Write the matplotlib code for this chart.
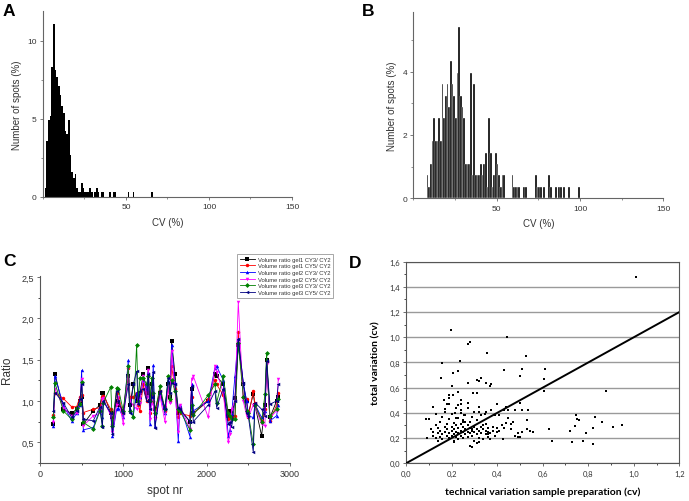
import numpy as np
import matplotlib
matplotlib.use('Agg')
import matplotlib.pyplot as plt
from matplotlib.ticker import MultipleLocator, FuncFormatter

plt.rcParams['font.family'] = ['Liberation Sans', 'DejaVu Sans']

# ---- Panel A: CV histogram (left bin edge, % of spots) ----
a_cv = [1, 2, 3, 4, 5, 6, 7, 8, 9, 10, 11, 12, 13, 14, 15, 16, 17, 18, 19, 20,
        21, 22, 23, 24, 25, 26, 27, 28, 29, 31, 32, 33, 35, 36, 40, 42, 43, 51, 54, 65]
a_pct = [0.6, 3.6, 4.9, 5.2, 8.3, 11.1, 8.1, 7.7, 7.1, 6.5, 5.8, 5.4, 4.2, 4.0, 4.9,
         2.7, 1.6, 1.2, 1.5, 0.6, 0.3, 0.3, 0.9, 0.6, 0.3, 0.3, 0.3, 0.6, 0.3, 0.3,
         0.6, 0.3, 0.3, 0.3, 0.3, 0.3, 0.3, 0.3, 0.3, 0.3]

# ---- Panel B: CV histogram ----
b_cv = [8, 9, 10, 11, 12, 13, 14, 15, 16, 17, 18, 19, 20, 21, 22, 23, 24, 25, 26, 27,
        28, 29, 30, 31, 32, 33, 34, 35, 36, 37, 38, 39, 40, 41, 42, 43, 44, 45, 46, 47,
        48, 49, 50, 51, 52, 53, 54, 59, 60, 61, 62, 63, 66, 67, 73, 74, 75, 76, 78, 81,
        82, 85, 87, 88, 90, 93, 99]
b_pct = [0.72, 0.36, 1.08, 1.8, 2.52, 1.8, 1.8, 2.52, 1.8, 3.6, 2.52, 3.24, 3.6, 2.88,
         4.32, 3.6, 3.24, 2.52, 3.96, 5.4, 3.24, 2.88, 2.52, 1.08, 1.08, 1.08, 3.96,
         0.72, 3.6, 0.72, 0.72, 0.72, 1.08, 0.72, 1.08, 1.44, 0.36, 2.52, 1.44, 0.36,
         0.72, 1.44, 1.08, 0.72, 0.36, 0.72, 0.72, 0.72, 0.36, 0.36, 0.36, 0.36, 0.36,
         0.36, 0.72, 0.36, 0.36, 0.36, 0.36, 0.72, 0.36, 0.36, 0.36, 0.36, 0.36, 0.36,
         0.36]

# ---- Panel C: volume ratios per spot ----
spots = [160, 180, 280, 380, 440, 480, 500, 520, 640, 720, 750, 760, 850, 870, 920,
         940, 1000, 1060, 1080, 1120, 1160, 1180, 1200, 1240, 1280, 1300, 1320, 1340,
         1360, 1380, 1440, 1500, 1540, 1560, 1580, 1620, 1660, 1680, 1800, 1820, 1840,
         2020, 2100, 2120, 2200, 2260, 2280, 2300, 2340, 2380, 2440, 2480, 2500, 2560,
         2580, 2660, 2700, 2720, 2760, 2840, 2860]
gel1_cy3 = [0.72, 1.33, 0.90, 0.85, 0.90, 1.00, 1.05, 0.72, 0.88, 0.95, 1.10, 1.10, 0.85,
            0.80, 1.00, 0.95, 0.88, 1.30, 0.95, 1.20, 1.00, 1.05, 1.10, 1.32, 1.10, 1.40,
            1.00, 1.20, 1.05, 0.90, 1.10, 0.92, 1.20, 1.05, 1.72, 1.33, 0.85, 0.90, 0.75,
            1.15, 0.85, 1.00, 1.33, 1.30, 1.20, 0.82, 0.88, 0.80, 1.03, 1.68, 1.20, 1.00,
            0.85, 1.08, 0.95, 0.58, 0.95, 1.50, 0.80, 1.00, 1.05]
gel1_cy5 = [0.83, 1.10, 1.03, 0.93, 0.93, 1.05, 1.07, 0.86, 0.90, 0.92, 1.05, 1.06, 0.90,
            0.72, 1.10, 1.05, 0.85, 1.40, 1.05, 1.05, 1.10, 0.95, 0.88, 1.20, 1.00, 1.30,
            0.85, 1.10, 1.00, 0.80, 1.12, 0.88, 1.15, 1.00, 1.42, 1.15, 0.80, 0.85, 0.82,
            1.05, 0.85, 1.02, 1.25, 1.20, 1.07, 0.78, 0.80, 0.82, 0.82, 1.83, 1.05, 1.02,
            0.80, 1.12, 0.97, 0.76, 0.90, 1.48, 0.76, 0.95, 1.10]
gel2_cy3 = [0.70, 1.30, 0.95, 0.76, 0.85, 0.95, 1.37, 0.65, 0.68, 0.90, 0.80, 1.00, 0.84,
            0.58, 0.90, 0.92, 0.80, 1.49, 0.90, 0.82, 1.10, 1.00, 1.05, 1.25, 1.15, 1.35,
            0.72, 1.05, 1.43, 0.70, 1.08, 0.85, 1.25, 1.00, 1.68, 1.22, 0.51, 0.95, 0.57,
            1.20, 0.88, 1.00, 1.40, 1.42, 1.25, 0.58, 0.65, 0.84, 1.30, 1.75, 1.22, 1.00,
            0.82, 0.80, 0.96, 0.80, 0.88, 1.50, 0.76, 0.82, 0.95]
gel2_cy5 = [0.75, 1.15, 0.92, 0.82, 0.85, 1.00, 1.27, 0.70, 0.82, 0.85, 1.02, 1.03, 0.82,
            0.62, 0.95, 1.05, 0.72, 1.40, 1.00, 0.95, 0.90, 1.08, 0.98, 1.30, 1.05, 1.38,
            0.78, 1.00, 0.95, 0.78, 1.06, 0.75, 1.18, 0.98, 1.60, 1.12, 0.63, 0.95, 0.66,
            1.26, 1.30, 0.80, 1.42, 1.35, 1.10, 0.50, 0.60, 0.90, 1.00, 2.20, 1.00, 0.82,
            0.80, 0.95, 0.93, 0.72, 0.70, 1.45, 0.80, 0.88, 1.27]
gel3_cy3 = [0.80, 1.22, 0.88, 0.78, 0.92, 0.96, 1.23, 0.74, 0.66, 0.88, 0.70, 0.98, 1.17,
            0.70, 1.16, 1.15, 0.88, 1.42, 0.88, 0.80, 1.68, 1.00, 1.28, 1.28, 1.20, 1.30,
            1.00, 1.28, 1.10, 0.85, 1.18, 0.90, 1.30, 1.02, 1.25, 1.12, 0.90, 0.88, 0.65,
            0.95, 0.83, 1.07, 1.20, 0.98, 1.30, 0.85, 0.82, 0.78, 0.78, 1.70, 1.05, 0.88,
            0.85, 0.48, 0.95, 0.75, 1.08, 1.58, 0.82, 0.90, 1.02]
gel3_cy5 = [0.88, 1.10, 0.98, 0.80, 0.88, 1.02, 1.20, 0.78, 0.76, 0.93, 0.68, 1.00, 0.85,
            0.60, 1.12, 1.00, 0.85, 1.20, 0.85, 1.20, 1.36, 0.96, 1.12, 1.15, 1.00, 1.32,
            0.90, 1.05, 1.35, 0.67, 1.12, 0.90, 1.28, 1.10, 1.22, 1.20, 0.92, 0.90, 0.75,
            1.18, 0.75, 0.95, 1.12, 0.92, 1.15, 0.72, 0.75, 0.68, 1.00, 1.75, 1.22, 0.85,
            0.82, 0.38, 0.98, 0.90, 0.82, 1.48, 0.96, 1.00, 1.20]
series_c = [
    ('Volume ratio gel1 CY3/ CY2', gel1_cy3, 'black', 's'),
    ('Volume ratio gel1 CY5/ CY2', gel1_cy5, 'red', 'o'),
    ('Volume ratio gel2 CY3/ CY2', gel2_cy3, 'blue', '^'),
    ('Volume ratio gel2 CY5/ CY2', gel2_cy5, 'magenta', 'v'),
    ('Volume ratio gel3 CY3/ CY2', gel3_cy3, '#008000', 'D'),
    ('Volume ratio gel3 CY5/ CY2', gel3_cy5, '#000080', '<'),
]

# ---- Panel D: technical vs total variation ----
tech_cv = [1.01, 0.198, 0.445, 0.28, 0.27, 0.354, 0.528, 0.237, 0.16, 0.43, 0.51, 0.61,
           0.206, 0.227, 0.155, 0.50, 0.33, 0.31, 0.605, 0.32, 0.35, 0.27, 0.375, 0.37,
           0.20, 0.31, 0.295, 0.605, 0.88, 0.23, 0.19, 0.205, 0.167, 0.24, 0.27, 0.50,
           0.40, 0.18, 0.19, 0.32, 0.12, 0.23, 0.44, 0.375, 0.43, 0.48, 0.51, 0.535, 0.35,
           0.446, 0.215, 0.243, 0.32, 0.347, 0.256, 0.41, 0.39, 0.745, 0.83, 0.75, 0.76,
           0.86, 0.95, 0.91, 0.74, 0.82, 0.79, 0.626, 0.72, 0.64, 0.727, 0.777, 0.823,
           0.53, 0.53, 0.556, 0.546, 0.51, 0.49, 0.426, 0.46, 0.09, 0.086, 0.10,
           0.11, 0.12, 0.12, 0.13, 0.13, 0.14, 0.14, 0.15, 0.15, 0.15, 0.16, 0.16, 0.16,
           0.17, 0.17, 0.17, 0.18, 0.18, 0.18, 0.19, 0.19, 0.19, 0.20, 0.20, 0.20, 0.20,
           0.21, 0.21, 0.21, 0.21, 0.22, 0.22, 0.22, 0.22, 0.23, 0.23, 0.23, 0.23, 0.24,
           0.24, 0.24, 0.24, 0.25, 0.25, 0.25, 0.25, 0.26, 0.26, 0.26, 0.27, 0.27, 0.27,
           0.27, 0.28, 0.28, 0.28, 0.28, 0.29, 0.29, 0.29, 0.29, 0.30, 0.30, 0.30, 0.30,
           0.31, 0.31, 0.31, 0.31, 0.32, 0.32, 0.32, 0.33, 0.33, 0.33, 0.34, 0.34, 0.35,
           0.35, 0.35, 0.36, 0.36, 0.36, 0.37, 0.37, 0.38, 0.38, 0.39, 0.40, 0.41, 0.42,
           0.43, 0.44, 0.45, 0.46, 0.47, 0.48, 0.49, 0.50, 0.13, 0.12, 0.14, 0.26, 0.22,
           0.19, 0.24, 0.34, 0.29, 0.25, 0.36, 0.40, 0.17, 0.21]
total_cv = [1.48, 1.06, 1.005, 0.96, 0.95, 0.875, 0.854, 0.81, 0.796, 0.74, 0.75, 0.75,
            0.716, 0.73, 0.68, 0.69, 0.68, 0.66, 0.67, 0.65, 0.64, 0.64, 0.63, 0.61,
            0.61, 0.555, 0.56, 0.57, 0.57, 0.565, 0.545, 0.54, 0.50, 0.50, 0.48, 0.48,
            0.47, 0.47, 0.47, 0.45, 0.45, 0.46, 0.45, 0.425, 0.42, 0.42, 0.42, 0.42, 0.41,
            0.42, 0.40, 0.40, 0.405, 0.39, 0.383, 0.38, 0.38, 0.385, 0.37, 0.35, 0.345,
            0.33, 0.307, 0.29, 0.295, 0.28, 0.24, 0.272, 0.26, 0.175, 0.17, 0.18, 0.15,
            0.27, 0.34, 0.25, 0.255, 0.245, 0.205, 0.19, 0.27, 0.20, 0.35, 0.35,
            0.27, 0.25, 0.22, 0.30, 0.20, 0.24, 0.28, 0.26, 0.21, 0.33, 0.23, 0.19, 0.37,
            0.25, 0.29, 0.41, 0.22, 0.27, 0.31, 0.20, 0.24, 0.35, 0.26, 0.22, 0.29, 0.39,
            0.18, 0.23, 0.27, 0.32, 0.21, 0.25, 0.30, 0.44, 0.19, 0.24, 0.28, 0.36, 0.22,
            0.26, 0.31, 0.42, 0.20, 0.25, 0.29, 0.34, 0.23, 0.27, 0.38, 0.21, 0.25, 0.30,
            0.44, 0.24, 0.28, 0.33, 0.14, 0.22, 0.26, 0.13, 0.37, 0.18, 0.25, 0.29, 0.41,
            0.16, 0.23, 0.27, 0.34, 0.20, 0.26, 0.17, 0.24, 0.29, 0.38, 0.19, 0.27, 0.23,
            0.26, 0.31, 0.21, 0.25, 0.28, 0.24, 0.19, 0.26, 0.29, 0.22, 0.25, 0.26, 0.30,
            0.28, 0.32, 0.36, 0.31, 0.33, 0.22, 0.24, 0.21, 0.39, 0.45, 0.18, 0.33, 0.36,
            0.52, 0.47, 0.30, 0.27, 0.33, 0.23, 0.28, 0.43, 0.17]

comma = FuncFormatter(lambda v, p: ('%.1f' % v).replace('.', ','))

fig = plt.figure(figsize=(6.89, 5.02), dpi=100)


def style_hist(ax):
    for s in ('top', 'right'):
        ax.spines[s].set_visible(False)
    for s in ('left', 'bottom'):
        ax.spines[s].set_color('#666666')
        ax.spines[s].set_linewidth(0.8)
    ax.tick_params(labelsize=6, length=2.5, width=0.6, color='#666666', labelcolor='#333333', pad=2)
    ax.tick_params(which='minor', length=1.5, width=0.5, color='#666666')
    ax.set_xlim(0, 150)
    ax.xaxis.set_major_locator(MultipleLocator(50))
    ax.xaxis.set_minor_locator(MultipleLocator(25))
    ax.set_xticks([50, 100, 150])
    ax.set_xlabel('CV (%)', fontsize=7, color='#333333', labelpad=5)
    ax.set_ylabel('Number of spots (%)', fontsize=7, color='#333333', labelpad=4)


# Panel A
axA = fig.add_axes([0.0624, 0.6056, 0.3614, 0.3705])
axA.bar(a_cv, a_pct, width=1.0, align='edge', color='black', linewidth=0)
style_hist(axA)
axA.set_ylim(0, 11.9)
axA.yaxis.set_major_locator(MultipleLocator(5))
axA.yaxis.set_minor_locator(MultipleLocator(2.5))

# Panel B
axB = fig.add_axes([0.600, 0.603, 0.3628, 0.371])
axB.bar(b_cv, b_pct, width=1.0, align='edge', color='black',
        edgecolor='white', linewidth=0.25)
style_hist(axB)
axB.set_ylim(0, 5.88)
axB.yaxis.set_major_locator(MultipleLocator(2))
axB.yaxis.set_minor_locator(MultipleLocator(1))

# Panel C
axC = fig.add_axes([0.058, 0.0757, 0.3628, 0.3725])
for label, vals, col, mk in series_c:
    axC.plot(spots, vals, color=col, marker=mk, markersize=2.5, linewidth=0.6,
             markeredgewidth=0, label=label)
axC.set_xlim(0, 3000)
axC.set_ylim(0.25, 2.51)
axC.xaxis.set_major_locator(MultipleLocator(1000))
axC.xaxis.set_minor_locator(MultipleLocator(500))
axC.yaxis.set_major_locator(MultipleLocator(0.5))
axC.yaxis.set_minor_locator(MultipleLocator(0.25))
axC.yaxis.set_major_formatter(comma)
for s in ('top', 'right'):
    axC.spines[s].set_visible(False)
for s in ('left', 'bottom'):
    axC.spines[s].set_color('#555555')
    axC.spines[s].set_linewidth(0.8)
axC.tick_params(labelsize=6.5, length=2.5, width=0.6, color='#555555', labelcolor='#333333', pad=2)
axC.tick_params(which='minor', length=1.5, width=0.5)
axC.set_xlabel('spot nr', fontsize=8.5, color='#333333', labelpad=4)
axC.set_ylabel('Ratio', fontsize=8.5, color='#333333', labelpad=6)
leg = axC.legend(loc='upper left', bbox_to_anchor=(234 / 689, 1 - 252 / 502),
                 bbox_transform=fig.transFigure, fontsize=4.2, frameon=True,
                 fancybox=False, framealpha=1, edgecolor='#999999', borderpad=0.5,
                 labelspacing=0.25, handlelength=2.6, handletextpad=0.5)
leg.get_frame().set_linewidth(0.6)
for t in leg.get_texts():
    t.set_color('#333333')

# Panel D
axD = fig.add_axes([0.5893, 0.0751, 0.3966, 0.4016])
axD.set_xlim(0, 1.2)
axD.set_ylim(0, 1.6)
axD.yaxis.set_major_locator(MultipleLocator(0.2))
axD.xaxis.set_major_locator(MultipleLocator(0.2))
axD.yaxis.set_minor_locator(MultipleLocator(0.1))
axD.xaxis.set_minor_locator(MultipleLocator(0.1))
axD.xaxis.set_major_formatter(comma)
axD.yaxis.set_major_formatter(comma)
axD.grid(axis='y', which='major', color='#9a9a9a', linewidth=1.0)
axD.set_axisbelow(True)
axD.scatter(tech_cv, total_cv, s=1.6, marker='s', color='black', linewidths=0, zorder=3)
axD.plot([0, 1.2], [0, 1.2], color='black', linewidth=1.4, zorder=4)
for s in axD.spines.values():
    s.set_color('#555555')
    s.set_linewidth(0.8)
axD.tick_params(labelsize=5.5, length=2.5, width=0.6, color='#555555', labelcolor='#333333', pad=2)
axD.tick_params(which='minor', length=1.5, width=0.5)
for t in axD.get_xticklabels() + axD.get_yticklabels():
    t.set_family(['Lato', 'DejaVu Sans'])
axD.set_xlabel('technical variation sample preparation (cv)', fontsize=7.5,
               fontweight='bold', family=['Lato', 'DejaVu Sans'], labelpad=7)
axD.set_ylabel('total variation (cv)', fontsize=7.5, fontweight='bold',
               family=['Lato', 'DejaVu Sans'], labelpad=6)

# Panel letters
for letter, x, y in [('A', 3, 4), ('B', 362, 4), ('C', 3, 254), ('D', 349, 256)]:
    fig.text(x / 689, 1 - y / 502, letter, fontsize=12.5, fontweight='bold',
             ha='left', va='top')

fig.savefig('out.png', dpi=100)
